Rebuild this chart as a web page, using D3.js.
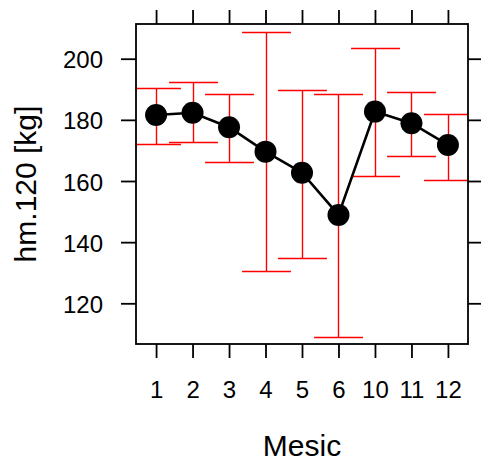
<!DOCTYPE html>
<html>
<head>
<meta charset="utf-8">
<script src="https://cdn.jsdelivr.net/npm/d3@7"></script>
<style>
  html, body { margin: 0; padding: 0; background: #fff; }
  svg { display: block; }
  text { font-family: "Liberation Sans", Arial, sans-serif; fill: #000; }
</style>
</head>
<body>
<script>
// Monthly means of hm.120 with error bar limits
const months = ["1", "2", "3", "4", "5", "6", "10", "11", "12"];
const meanKg = [181.6, 182.3, 177.6, 169.6, 162.7, 148.9, 182.7, 178.9, 171.8];
const upperKg = [190.3, 192.4, 188.4, 208.6, 189.8, 188.4, 203.4, 189.1, 181.8];
const lowerKg = [172.2, 172.7, 166.2, 130.7, 134.7, 109.1, 161.6, 168.1, 160.2];
const yTicks = [120, 140, 160, 180, 200];

const W = 481, H = 461;
const panel = { left: 136, right: 468, top: 24, bottom: 344 };
const tickLen = 14;

const svg = d3.select("body").append("svg")
  .attr("width", W).attr("height", H);

const x = d3.scalePoint()
  .domain(months)
  .range([panel.left, panel.right])
  .padding(0.55);

const y = d3.scaleLinear()
  .domain([106.69, 211.35])
  .range([panel.bottom, panel.top]);

const rows = months.map((m, i) => ({ m, mean: meanKg[i], hi: upperKg[i], lo: lowerKg[i] }));

svg.append("clipPath").attr("id", "panel-clip")
  .append("rect")
  .attr("x", panel.left).attr("y", panel.top)
  .attr("width", panel.right - panel.left).attr("height", panel.bottom - panel.top);

const plot = svg.append("g").attr("clip-path", "url(#panel-clip)");

// Error bars (snapped to pixel centres so 1.4px strokes stay even)
const snap = v => Math.round(v) + 0.5;
const capHalf = x.step() * 0.67;
const bars = plot.append("g")
  .attr("stroke", "#ff0000").attr("stroke-width", 1.4);
rows.forEach(d => {
  const cx = snap(x(d.m));
  const yh = snap(y(d.hi)), yl = snap(y(d.lo));
  bars.append("line").attr("x1", cx).attr("x2", cx).attr("y1", yl).attr("y2", yh);
  bars.append("line").attr("x1", cx - capHalf).attr("x2", cx + capHalf).attr("y1", yh).attr("y2", yh);
  bars.append("line").attr("x1", cx - capHalf).attr("x2", cx + capHalf).attr("y1", yl).attr("y2", yl);
});

// Mean line and points
plot.append("path")
  .datum(rows)
  .attr("fill", "none").attr("stroke", "#000").attr("stroke-width", 2.6)
  .attr("d", d3.line().x(d => x(d.m)).y(d => y(d.mean)));

plot.append("g").selectAll("circle")
  .data(rows).join("circle")
  .attr("cx", d => x(d.m)).attr("cy", d => y(d.mean))
  .attr("r", 11).attr("fill", "#000");

// Panel border
svg.append("rect")
  .attr("x", panel.left).attr("y", panel.top)
  .attr("width", panel.right - panel.left).attr("height", panel.bottom - panel.top)
  .attr("fill", "none").attr("stroke", "#000").attr("stroke-width", 1.8);

// Axes on all four sides
function styleAxis(g) {
  g.select(".domain").remove();
  g.selectAll(".tick line").attr("stroke", "#000").attr("stroke-width", 1.8);
}
const axBottom = svg.append("g").attr("transform", `translate(0,${panel.bottom})`)
  .call(d3.axisBottom(x).tickSize(tickLen).tickPadding(20));
styleAxis(axBottom);
axBottom.selectAll(".tick text").attr("font-size", 24).attr("dy", null).attr("y", 54)
  .attr("font-family", "Liberation Sans, Arial, sans-serif");

const axTop = svg.append("g").attr("transform", `translate(0,${panel.top})`)
  .call(d3.axisTop(x).tickSize(tickLen).tickFormat(""));
styleAxis(axTop);

const axLeft = svg.append("g").attr("transform", `translate(${panel.left},0)`)
  .call(d3.axisLeft(y).tickValues(yTicks).tickSize(tickLen + 1).tickPadding(18));
styleAxis(axLeft);
axLeft.selectAll(".tick text").attr("font-size", 24).attr("dy", "0.38em")
  .attr("font-family", "Liberation Sans, Arial, sans-serif");

const axRight = svg.append("g").attr("transform", `translate(${panel.right},0)`)
  .call(d3.axisRight(y).tickValues(yTicks).tickSize(tickLen).tickFormat(""));
styleAxis(axRight);

// Axis titles
svg.append("text")
  .attr("x", (panel.left + panel.right) / 2).attr("y", 456)
  .attr("text-anchor", "middle").attr("font-size", 30)
  .text("Mesic");

svg.append("text")
  .attr("transform", `translate(36,${(panel.top + panel.bottom) / 2}) rotate(-90)`)
  .attr("text-anchor", "middle").attr("font-size", 30)
  .text("hm.120 [kg]");
</script>
</body>
</html>
